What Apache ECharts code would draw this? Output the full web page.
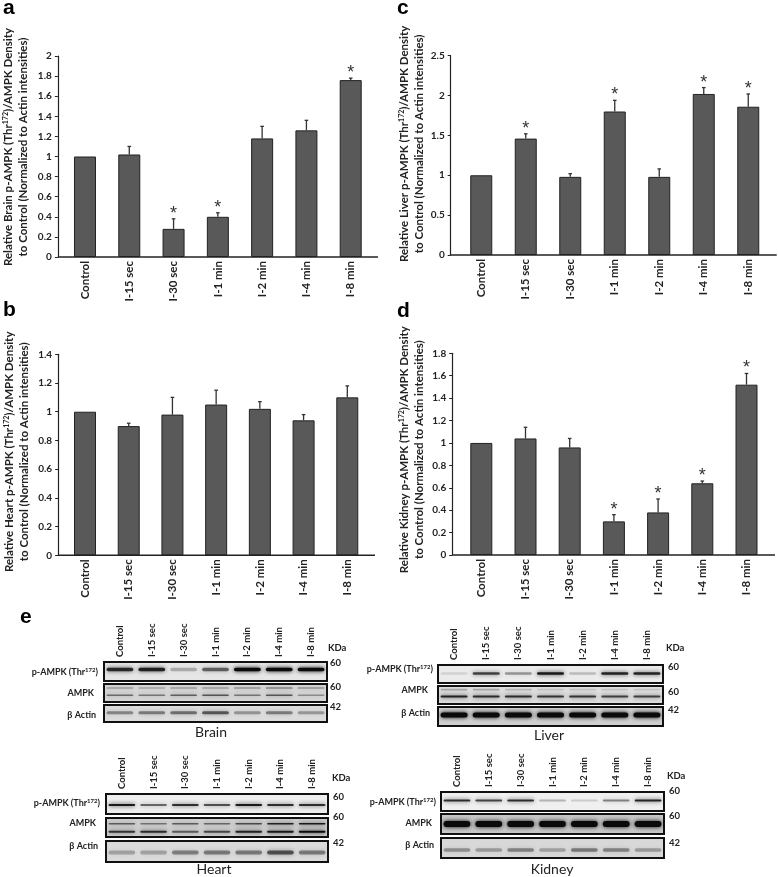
<!DOCTYPE html>
<html><head><meta charset="utf-8">
<style>html,body{margin:0;padding:0;background:#fff}#c{width:778px;height:877px}</style>
<script src="https://cdn.jsdelivr.net/npm/echarts@6/dist/echarts.min.js"></script>
</head><body><div id="c"></div>
<script>
const categories = ['Control','I-15 sec','I-30 sec','I-1 min','I-2 min','I-4 min','I-8 min'];

// bar charts: mean, top of error bar, index of bars with an asterisk
const brainValues  = [1, 1.02, 0.28, 0.40, 1.18, 1.26, 1.76];
const brainTops    = [1, 1.10, 0.38, 0.44, 1.30, 1.36, 1.78];
const brainStars   = [2, 3, 6];
const heartValues  = [1, 0.90, 0.98, 1.05, 1.02, 0.94, 1.10];
const heartTops    = [1, 0.92, 1.10, 1.15, 1.07, 0.98, 1.18];
const heartStars   = [];
const liverValues  = [1, 1.46, 0.98, 1.80, 0.98, 2.02, 1.86];
const liverTops    = [1, 1.52, 1.02, 1.94, 1.08, 2.10, 2.02];
const liverStars   = [1, 3, 5, 6];
const kidneyValues = [1, 1.04, 0.96, 0.30, 0.38, 0.64, 1.52];
const kidneyTops   = [1, 1.14, 1.04, 0.36, 0.50, 0.66, 1.62];
const kidneyStars  = [3, 4, 5, 6];

// western blot band darkness per lane
const brainP      = [0.8, 0.85, 0.25, 0.55, 1, 1, 1];
const brainA1     = [0.4, 0.35, 0.4, 0.4, 0.45, 0.55, 0.45];
const brainA2     = [0.5, 0.45, 0.55, 0.6, 0.45, 0.6, 0.35];
const brainActin  = [0.38, 0.42, 0.48, 0.58, 0.32, 0.42, 0.3];
const heartP      = [0.9, 0.55, 0.8, 0.65, 0.9, 0.8, 0.8];
const heartA1     = [0.55, 0.45, 0.55, 0.5, 0.65, 0.85, 0.9];
const heartA2     = [0.75, 0.8, 0.55, 0.65, 0.85, 0.9, 1];
const heartActin  = [0.25, 0.25, 0.4, 0.42, 0.42, 0.6, 0.42];
const liverP      = [0.1, 0.7, 0.35, 0.9, 0.2, 0.85, 0.85];
const liverA1     = [0.25, 0.25, 0.18, 0.12, 0.12, 0.12, 0.12];
const liverA2     = [0.85, 0.8, 0.8, 0.75, 0.75, 0.7, 0.7];
const liverActin  = [1, 1, 1, 1, 1, 1, 1];
const kidneyP     = [0.8, 0.7, 0.8, 0.25, 0.15, 0.45, 0.85];
const kidneyA     = [1, 1, 1, 1, 1, 1, 1];
const kidneyActin = [0.32, 0.28, 0.38, 0.25, 0.42, 0.38, 0.28];

const FONT = 'Lato';
const titleOf = (o, tail) => `Relative ${o} p-AMPK (Thr{s|172})/AMPK Density\n${tail}`;

const charts = [
 {v:brainValues,t:brainTops,s:brainStars,max:2,step:0.2,left:62.85,w:310,top:56,bottom:257,off:5,right:378,letter:'a',lx:3,ly:10,
  title:titleOf('Brain','to Control (Normalized to Actin intensities)'),gap:27,shift:19},
 {v:heartValues,t:heartTops,s:heartStars,max:1.4,step:0.2,left:63.15,w:306,top:354.3,bottom:555.3,off:5,right:375,letter:'b',lx:3,ly:312,
  title:titleOf('Heart','to Control (Normalized to Actin intensities)'),gap:26,shift:6},
 {v:liverValues,t:liverTops,s:liverStars,max:2.5,step:0.5,left:459,w:311.5,top:55.7,bottom:255,off:8.3,right:776.7,letter:'c',lx:397,ly:10,
  title:titleOf('Liver','to Control (Normalized to Actin intensities)'),gap:24,shift:23},
 {v:kidneyValues,t:kidneyTops,s:kidneyStars,max:1.8,step:0.2,left:459.2,w:309.4,top:353.3,bottom:555,off:7,right:775,letter:'d',lx:397,ly:313,
  title:titleOf('Kidney','to Control (Normalized to Actin intensities)'),gap:25,shift:9}
];

const blots = [
 {x0:104,x1:327,name:'Brain',nx:211,ny:732,panels:[
  {y0:662,y1:681,bg:'#e6e6e6',bands:[{y:.4,h:3.5,d:brainP}],label:'p-AMPK',lx:98,ly:672,kda:'60',ky:663},
  {y0:684,y1:702,bg:'#d6d6d6',bands:[{y:.22,h:1,d:brainA1},{y:.62,h:1.5,d:brainA2}],label:'AMPK',lx:94,ly:693,kda:'60',ky:687},
  {y0:705,y1:722,bg:'#dcdcdc',bands:[{y:.45,h:3,d:brainActin}],label:'β Actin',lx:96,ly:715,kda:'42',ky:707}],kx:328,ky:648,nx2:330},
 {x0:106,x1:328,name:'Heart',nx:214,ny:869,panels:[
  {y0:794,y1:814,bg:'#eeeeee',bands:[{y:.55,h:2,d:heartP}],label:'p-AMPK',lx:100,ly:803,kda:'60',ky:797},
  {y0:818,y1:837,bg:'#cfcfcf',bands:[{y:.3,h:1.6,d:heartA1},{y:.72,h:2,d:heartA2}],label:'AMPK',lx:96,ly:823,kda:'60',ky:817},
  {y0:841,y1:862,bg:'#dadada',bands:[{y:.55,h:4,d:heartActin}],label:'β Actin',lx:98,ly:846,kda:'42',ky:843}],kx:332,ky:778,nx2:333},
 {x0:438,x1:663,name:'Liver',nx:549,ny:735,panels:[
  {y0:665,y1:683,bg:'#ebebeb',bands:[{y:.47,h:2.5,d:liverP}],label:'p-AMPK',lx:433,ly:669,kda:'60',ky:667},
  {y0:686,y1:704,bg:'#dddddd',bands:[{y:.2,h:1.6,d:liverA1},{y:.58,h:2,d:liverA2}],label:'AMPK',lx:428,ly:690,kda:'60',ky:692},
  {y0:707,y1:726,bg:'#cfcfcf',bands:[{y:.42,h:5,d:liverActin}],label:'β Actin',lx:430,ly:713,kda:'42',ky:710}],kx:666,ky:648,nx2:668},
 {x0:441,x1:664,name:'Kidney',nx:552,ny:869,panels:[
  {y0:792,y1:811,bg:'#f0f0f0',bands:[{y:.45,h:2,d:kidneyP}],label:'p-AMPK',lx:436,ly:802,kda:'60',ky:791},
  {y0:814,y1:834,bg:'#c6c6c6',bands:[{y:.5,h:6,d:kidneyA}],label:'AMPK',lx:432,ly:823,kda:'60',ky:816},
  {y0:838,y1:858,bg:'#d8d8d8',bands:[{y:.6,h:3.5,d:kidneyActin}],label:'β Actin',lx:434,ly:845,kda:'42',ky:843}],kx:667,ky:776,nx2:669}
];

const grid=[],xAxis=[],yAxis=[],series=[],graphic=[];

charts.forEach((c,i)=>{
  grid.push({left:c.left,top:c.top,width:c.w,height:c.bottom-c.top,outerBoundsMode:'none'});
  xAxis.push({type:'category',gridIndex:i,data:categories,axisTick:{show:false},axisLine:{show:false},
    axisLabel:{rotate:90,interval:0,margin:4,color:'#222',fontFamily:FONT,fontWeight:'bold',fontSize:11.5}});
  yAxis.push({type:'value',gridIndex:i,min:0,max:c.max,interval:c.step,offset:c.off,splitLine:{show:false},
    axisLine:{show:true,lineStyle:{color:'#222',width:1.2}},
    axisTick:{show:true,length:3,inside:false,lineStyle:{color:'#222',width:1}},
    axisLabel:{margin:6,color:'#222',fontFamily:FONT,fontWeight:'bold',fontSize:10,
      formatter:v=>String(+v.toFixed(1))},
    name:c.title,nameLocation:'middle',nameGap:c.gap,nameRotate:90,
    nameTextStyle:{color:'#222',fontFamily:FONT,fontWeight:'bold',fontSize:11.5,lineHeight:15,padding:[0,0,0,c.shift],align:'center',
      rich:{s:{fontFamily:FONT,fontWeight:'bold',fontSize:7,color:'#222',padding:[0,0,5,0]}}}});
  series.push({type:'bar',xAxisIndex:i,yAxisIndex:i,data:c.v,barWidth:22,silent:true,
    itemStyle:{color:'#595959',borderColor:'#222',borderWidth:1}});
  series.push({type:'custom',xAxisIndex:i,yAxisIndex:i,silent:true,z:3,clip:false,
    data:c.v.map((v,k)=>[k,v,c.t[k],c.s.includes(k)?1:0]),
    renderItem:(p,api)=>{
      const a=api.coord([api.value(0),api.value(1)]),b=api.coord([api.value(0),api.value(2)]);
      const ch=[];
      if(api.value(2)>api.value(1)){
        ch.push({type:'line',shape:{x1:a[0],y1:a[1],x2:b[0],y2:b[1]},style:{stroke:'#333',lineWidth:1.3}});
        ch.push({type:'line',shape:{x1:b[0]-1.8,y1:b[1],x2:b[0]+1.8,y2:b[1]},style:{stroke:'#333',lineWidth:1.3}});
      }
      if(api.value(3)) ch.push({type:'text',style:{x:b[0],y:b[1]+4,text:'*',align:'center',verticalAlign:'bottom',
        fill:'#333',font:'18px "Liberation Sans"'}});
      return {type:'group',children:ch};
    }});
  // baseline runs a little past the first and last category bands
  series.push({type:'custom',xAxisIndex:i,yAxisIndex:i,silent:true,z:4,clip:false,data:[[0,0]],
    renderItem:(p,api)=>{
      const o=api.coord([0,0]);
      return {type:'line',shape:{x1:c.left-c.off,y1:o[1],x2:c.right,y2:o[1]},style:{stroke:'#222',lineWidth:1.5}};
    }});
  graphic.push({type:'text',left:c.lx,top:c.ly-12,style:{text:c.letter,fill:'#000',font:'bold 21px "Liberation Sans"'}});
});

blots.forEach(b=>{
  b.panels.forEach((p,pi)=>{
    const g=grid.length;
    grid.push({left:b.x0,top:p.y0,width:b.x1-b.x0,height:p.y1-p.y0,show:true,backgroundColor:p.bg,borderColor:'#111',borderWidth:2,outerBoundsMode:'none'});
    xAxis.push({type:'category',gridIndex:g,data:categories,position:'top',axisTick:{show:false},axisLine:{show:false},
      axisLabel:{show:pi===0,rotate:90,interval:0,margin:5,color:'#222',fontFamily:FONT,fontWeight:'bold',fontSize:9.5}});
    yAxis.push({type:'value',gridIndex:g,min:0,max:1,inverse:true,show:false,splitLine:{show:false}});
    const data=[];
    p.bands.forEach(bd=>bd.d.forEach((d,k)=>data.push([k,bd.y,d,bd.h])));
    series.push({type:'custom',xAxisIndex:g,yAxisIndex:g,silent:true,data,
      renderItem:(q,api)=>{
        const c=api.coord([api.value(0),api.value(1)]),w=api.size([1,0])[0]*0.84,h=api.value(3),d=api.value(2);
        const col=`rgba(10,10,10,${d})`;
        return {type:'rect',shape:{x:c[0]-w/2,y:c[1]-h/2,width:w,height:h,r:h/2},
          style:{fill:col,shadowColor:col,shadowBlur:4}};
      }});
    const lab=p.label==='p-AMPK'
      ? {text:'p-AMPK (Thr{s|172})',rich:{s:{font:'bold 6px '+FONT,fill:'#222',padding:[0,0,4,0]}}}
      : {text:p.label};
    graphic.push({type:'text',x:p.lx,y:p.ly,style:Object.assign(lab,{align:'right',verticalAlign:'middle',fill:'#222',font:'bold 9px '+FONT})});
    graphic.push({type:'text',x:b.nx2,y:p.ky,style:{text:p.kda,align:'left',verticalAlign:'middle',fill:'#222',font:'bold 9.5px '+FONT}});
  });
  graphic.push({type:'text',x:b.kx,y:b.ky,style:{text:'KDa',align:'left',verticalAlign:'middle',fill:'#222',font:'bold 9.5px '+FONT}});
  graphic.push({type:'text',x:b.nx,y:b.ny,style:{text:b.name,align:'center',verticalAlign:'middle',fill:'#222',font:'14px '+FONT}});
});
graphic.push({type:'text',left:20,top:607,style:{text:'e',fill:'#000',font:'bold 21px "Liberation Sans"'}});

const chart=echarts.init(document.getElementById('c'),null,{renderer:'canvas',width:778,height:877});
chart.setOption({animation:false,backgroundColor:'#fff',textStyle:{fontFamily:FONT},grid,xAxis,yAxis,series,graphic});
</script></body></html>
